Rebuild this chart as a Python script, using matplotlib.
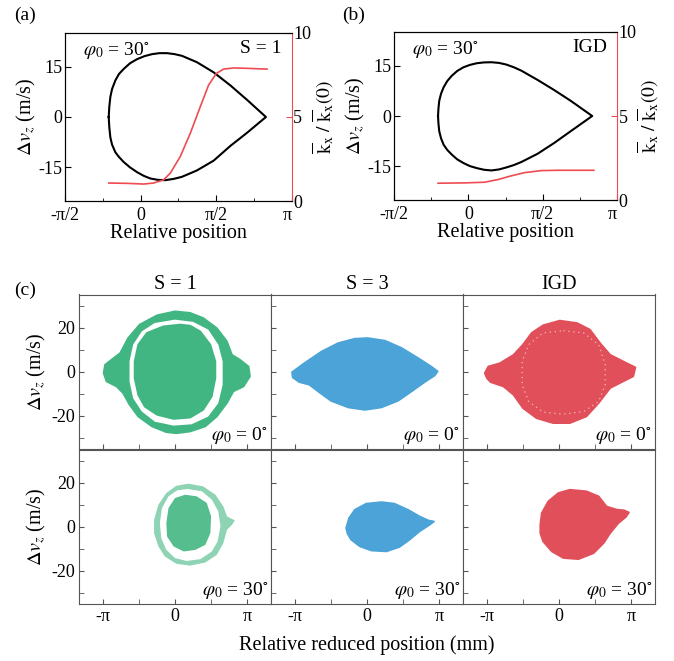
import numpy as np
import matplotlib.pyplot as plt
from matplotlib.ticker import MultipleLocator

plt.rcParams['font.family'] = ['Liberation Serif', 'DejaVu Serif']
plt.rcParams['mathtext.fontset'] = 'stix'
plt.rcParams['axes.unicode_minus'] = False

GREEN = '#42b682'
BLUE = '#4ba3d7'
RED = '#e1505a'
CURVE_RED = '#ee4b52'
FRAME = '#555555'

# ---- panel (a): S = 1, phi0 = 30 deg (x in units of pi) ----
a_sep_x = [-0.211, -0.207, -0.200, -0.189, -0.167, -0.143, -0.112, -0.070, -0.024, 0.025,
           0.075, 0.125, 0.174, 0.225, 0.273, 0.372, 0.482, 0.593, 0.703, 0.828,
           0.703, 0.593, 0.482, 0.372, 0.273, 0.220, 0.163, 0.113, 0.064, 0.020,
           -0.024, -0.070, -0.112, -0.143, -0.167, -0.189, -0.200, -0.207]
a_sep_v = [0.0, 3.1, 6.0, 8.3, 10.9, 12.8, 14.3, 16.0, 17.2, 18.1,
           18.7, 19.0, 19.0, 18.7, 18.2, 16.3, 13.3, 9.4, 5.1, 0.0,
           -4.7, -8.6, -13.0, -15.9, -17.8, -18.4, -18.8, -18.7, -18.3, -17.5,
           -16.4, -15.0, -13.4, -11.9, -10.5, -8.2, -6.1, -3.1]
a_k_x = [-0.211, -0.090, 0.020, 0.086, 0.152, 0.196, 0.262, 0.328, 0.394, 0.449,
         0.500, 0.548, 0.615, 0.725, 0.835]
a_k = [1.07, 1.05, 1.01, 1.07, 1.26, 1.66, 2.65, 4.03, 5.61, 6.90,
       7.59, 7.85, 7.92, 7.89, 7.85]

# ---- panel (b): IGD, phi0 = 30 deg ----
b_sep_x = [-0.204, -0.201, -0.196, -0.184, -0.167, -0.142, -0.111, -0.075, -0.033, 0.010,
           0.056, 0.106, 0.156, 0.206, 0.256, 0.306, 0.356, 0.467, 0.578, 0.689,
           0.833, 0.689, 0.578, 0.467, 0.356, 0.306, 0.256, 0.206, 0.156, 0.106,
           0.056, 0.010, -0.033, -0.075, -0.111, -0.142, -0.167, -0.184, -0.196, -0.201]
b_sep_v = [0.0, 2.3, 4.5, 6.6, 8.5, 10.4, 12.0, 13.4, 14.5, 15.2,
           15.7, 15.95, 16.0, 15.8, 15.3, 14.5, 13.5, 10.7, 7.7, 4.5,
           0.0, -4.5, -8.0, -11.2, -13.7, -14.6, -15.3, -15.9, -16.2, -16.0,
           -15.5, -14.9, -14.0, -12.9, -11.5, -10.1, -8.5, -6.6, -4.5, -2.3]
b_k_x = [-0.204, -0.022, 0.111, 0.200, 0.289, 0.378, 0.489, 0.600, 0.733, 0.844]
b_k = [1.00, 1.02, 1.06, 1.22, 1.44, 1.63, 1.75, 1.77, 1.77, 1.77]

# ---- panel (c): outlines of the particle clouds ----
# S = 1, phi0 = 0: outer ring, gap, core
s1_0_outer_x = [0.00, 0.21, 0.39, 0.58, 0.72, 0.79, 0.90, 1.02, 1.04, 0.95, 0.81, 0.72, 0.58,
                0.42, 0.21, 0.02, -0.12, -0.32, -0.51, -0.63, -0.72, -0.81, -0.95, -0.99,
                -0.97, -0.88, -0.76, -0.65, -0.49, -0.25]
s1_0_outer_v = [27.4, 26.7, 24.4, 19.8, 13.8, 7.7, 5.5, 2.4, -2.1, -6.7, -8.9, -14.2, -20.3,
                -24.8, -27.1, -27.9, -27.4, -24.8, -20.3, -15.0, -9.7, -6.7, -4.4, -0.6,
                3.2, 5.5, 8.5, 15.3, 21.4, 25.6]
s1_0_gap_x = [0.00, 0.25, 0.46, 0.60, 0.66, 0.66, 0.60, 0.46, 0.23, -0.02, -0.28, -0.46,
              -0.58, -0.63, -0.63, -0.58, -0.46, -0.28]
s1_0_gap_v = [23.6, 22.6, 19.1, 12.3, 4.7, -5.9, -14.2, -20.3, -23.8, -24.4, -22.6, -18.0,
              -12.0, -4.4, 4.7, 12.3, 18.3, 22.1]
s1_0_core_x = [0.07, 0.21, 0.35, 0.49, 0.56, 0.56, 0.51, 0.39, 0.21, -0.02, -0.25, -0.42,
               -0.51, -0.56, -0.56, -0.51, -0.39, -0.16]
s1_0_core_v = [21.4, 20.9, 18.3, 12.3, 4.7, -2.9, -11.2, -17.3, -20.8, -21.4, -19.5, -15.8,
               -10.5, -2.9, 4.7, 12.3, 17.6, 20.6]

# S = 3, phi0 = 0
s3_0_x = [-1.04, -0.87, -0.63, -0.40, -0.17, 0.01, 0.25, 0.48, 0.71, 0.89, 0.98, 0.94,
          0.80, 0.62, 0.43, 0.20, -0.03, -0.26, -0.50, -0.68, -0.80, -0.94, -1.03]
s3_0_v = [-0.2, 3.9, 9.2, 13.0, 15.0, 15.3, 14.1, 10.8, 6.2, 2.4, 0.2, -1.7,
          -4.7, -8.9, -13.2, -16.2, -17.3, -16.2, -13.2, -8.9, -5.9, -4.7, -2.6]

# IGD, phi0 = 0 (plus faint inner ring)
igd_0_x = [-1.03, -0.98, -0.82, -0.63, -0.50, -0.38, -0.22, 0.01, 0.25, 0.43, 0.57, 0.71,
           0.94, 1.06, 1.03, 0.89, 0.71, 0.55, 0.38, 0.15, -0.08, -0.31, -0.50, -0.63,
           -0.77, -0.95, -1.00]
igd_0_v = [-0.6, 2.4, 3.9, 7.7, 12.3, 17.6, 21.1, 23.2, 22.1, 19.1, 13.0, 7.7,
           3.9, 2.0, -2.1, -4.4, -7.4, -14.2, -20.3, -23.3, -23.3, -21.1, -16.5, -10.5,
           -6.7, -4.7, -2.9]
igd_0_ring_x = [0.06, 0.34, 0.55, 0.64, 0.64, 0.55, 0.34, 0.06, -0.22, -0.42, -0.51, -0.51,
                -0.42, -0.22]
igd_0_ring_v = [18.6, 17.6, 12.3, 3.2, -5.9, -13.5, -18.0, -19.2, -18.3, -13.5, -5.9, 4.7,
                12.3, 17.6]

# S = 1, phi0 = 30: sparse ring and core
s1_30_outer_x = [0.19, 0.39, 0.56, 0.67, 0.72, 0.83, 0.79, 0.72, 0.67, 0.58, 0.42, 0.21,
                 0.02, -0.14, -0.23, -0.29, -0.29, -0.23, -0.12, 0.02]
s1_30_outer_v = [19.5, 18.3, 14.5, 9.2, 4.7, 2.9, 0.9, -1.4, -7.4, -12.7, -16.2, -17.6,
                 -16.8, -13.5, -8.9, -2.9, 3.2, 10.0, 15.3, 18.6]
s1_30_gap_x = [0.17, 0.37, 0.51, 0.60, 0.63, 0.59, 0.51, 0.35, 0.16, 0.00, -0.12, -0.19,
               -0.21, -0.18, -0.09, 0.03]
s1_30_gap_v = [17.1, 16.1, 12.3, 7.0, 0.2, -6.7, -11.2, -14.7, -15.5, -14.2, -10.5, -5.2,
               1.7, 8.5, 13.8, 16.5]
s1_30_core_x = [0.14, 0.30, 0.44, 0.50, 0.49, 0.42, 0.28, 0.12, -0.02, -0.11, -0.12, -0.09, 0.00]
s1_30_core_v = [14.5, 13.8, 10.8, 4.7, -2.9, -8.2, -10.5, -11.2, -8.9, -4.4, 1.7, 8.5, 13.0]

# S = 3, phi0 = 30
s3_30_x = [-0.29, -0.25, -0.17, -0.01, 0.20, 0.38, 0.57, 0.73, 0.85, 0.93, 0.87, 0.73,
           0.59, 0.45, 0.27, 0.06, -0.10, -0.22, -0.27]
s3_30_v = [-0.6, 3.9, 7.7, 10.5, 11.2, 10.5, 7.7, 4.7, 2.9, 2.4, 0.9, -2.1,
           -5.9, -9.2, -11.2, -10.8, -8.9, -5.9, -3.2]

# IGD, phi0 = 30
igd_30_x = [-0.26, -0.24, -0.15, -0.01, 0.15, 0.38, 0.55, 0.66, 0.80, 0.90, 0.97, 0.93,
            0.82, 0.71, 0.62, 0.48, 0.27, 0.06, -0.10, -0.22, -0.26]
igd_30_v = [0.9, 6.2, 11.5, 15.3, 16.8, 16.1, 13.8, 9.2, 7.8, 7.5, 6.5, 4.5,
            1.5, -2.9, -7.4, -12.0, -14.7, -14.2, -11.2, -6.7, -2.9]

col_titles = ['S = 1', 'S = 3', 'IGD']
row_angles = ['0', '30']

fig = plt.figure(figsize=(6.74, 6.61), dpi=100)


def phi_label(deg):
    return r'$\varphi_0$ = ' + deg + r'$^{\circ}$'


def top_panel(rect, sx, sv, kx, k, tag, name):
    ax = fig.add_axes(rect)
    ax.plot(sx + sx[:1], sv + sv[:1], color='black', lw=1.5, solid_joinstyle='round')
    ax.set_xlim(-0.5, 1.0)
    ax.set_ylim(-25, 25)
    ax.xaxis.set_minor_locator(MultipleLocator(0.25))
    ax.set_xticks([-0.5, 0, 0.5, 1.0])
    ax.set_xticklabels(['-π/2', '0', 'π/2', 'π'])
    ax.get_xticklabels()[-1].set_ha('right')
    ax.set_yticks([-15, 0, 15])
    ax.tick_params(direction='in', labelsize=13, length=4, pad=2)
    ax.tick_params(axis='x', pad=4)
    ax.tick_params(which='minor', direction='in', length=2.5)
    ax.spines['right'].set_visible(False)
    ax.set_xlabel('Relative position', fontsize=14.5, labelpad=0)
    ax.set_ylabel(r'$\Delta v_z$ (m/s)', fontsize=14.5, labelpad=0)
    ax.text(0.08, 0.96, phi_label('30'), transform=ax.transAxes, fontsize=14,
            ha='left', va='top')
    ax.text(0.955, 0.96, name, transform=ax.transAxes, fontsize=14,
            ha='right', va='top')
    ax2 = ax.twinx()
    ax2.plot(kx, k, color=CURVE_RED, lw=1.2)
    ax2.set_ylim(0, 10)
    ax2.set_yticks([0, 5, 10])
    ax2.spines['right'].set_color(CURVE_RED)
    ax2.tick_params(direction='in', labelsize=13, length=4, colors='black', pad=1)
    ax2.tick_params(axis='y', color=CURVE_RED)
    ax2.set_ylabel(r'$\overline{\mathrm{k}}_\mathrm{x}\ /\ \overline{\mathrm{k}}_\mathrm{x}(0)$',
                   fontsize=14, labelpad=-1)
    fig.text(rect[0] - 0.06, 0.977, tag, fontsize=14, ha='center', va='center')


top_panel([0.0964, 0.6959, 0.3368, 0.2542], a_sep_x, a_sep_v, a_k_x, a_k, '(a)', 'S = 1')
top_panel([0.5846, 0.6974, 0.3309, 0.2542], b_sep_x, b_sep_v, b_k_x, b_k, '(b)', 'IGD')

# ---- panel (c) grid ----
col_x0 = [79 / 674, 271 / 674, 463 / 674]
col_w = 192 / 674
row_y0 = [1 - 449 / 661, 1 - 604 / 661]
row_h = 154.5 / 661

axes = [[None] * 3 for _ in range(2)]
for r in range(2):
    for c in range(3):
        ax = fig.add_axes([col_x0[c], row_y0[r], col_w, row_h])
        axes[r][c] = ax
        ax.set_xlim(-1.33, 1.33)
        ax.set_ylim(-35, 35)
        ax.set_xticks([-1, 0, 1])
        ax.xaxis.set_minor_locator(MultipleLocator(0.5))
        ax.set_yticks([-20, 0, 20])
        ax.yaxis.set_minor_locator(MultipleLocator(10))
        ax.tick_params(which='both', direction='in', length=3.5, color=FRAME,
                       labelsize=13, pad=3)
        for s in ax.spines.values():
            s.set_color(FRAME)
        if r == 1:
            ax.set_xticklabels(['-π', '0', 'π'])
        else:
            ax.set_xticklabels([])
            ax.set_title(col_titles[c], fontsize=14.5, pad=4)
        if c == 0:
            ax.set_ylabel(r'$\Delta v_z$ (m/s)', fontsize=14.5, labelpad=2)
        else:
            ax.set_yticklabels([])
        ax.text(0.985, 0.02, phi_label(row_angles[r]), transform=ax.transAxes,
                fontsize=14, ha='right', va='bottom')

fill_kw = dict(lw=1.2, joinstyle='round')

ax = axes[0][0]
ax.fill(s1_0_outer_x, s1_0_outer_v, color=GREEN, **fill_kw)
ax.fill(s1_0_gap_x, s1_0_gap_v, color='white', lw=0)
ax.fill(s1_0_core_x, s1_0_core_v, color=GREEN, **fill_kw)

ax = axes[0][1]
ax.fill(s3_0_x, s3_0_v, color=BLUE, **fill_kw)

ax = axes[0][2]
ax.fill(igd_0_x, igd_0_v, color=RED, **fill_kw)
ax.plot(igd_0_ring_x + igd_0_ring_x[:1], igd_0_ring_v + igd_0_ring_v[:1],
        color='white', lw=0.9, ls=(0, (1, 3)), alpha=0.6)

ax = axes[1][0]
ax.fill(s1_30_outer_x, s1_30_outer_v, color=GREEN, alpha=0.6, lw=0)
ax.fill(s1_30_gap_x, s1_30_gap_v, color='white', lw=0)
ax.fill(s1_30_core_x, s1_30_core_v, color=GREEN, alpha=0.9, lw=0)

ax = axes[1][1]
ax.fill(s3_30_x, s3_30_v, color=BLUE, **fill_kw)

ax = axes[1][2]
ax.fill(igd_30_x, igd_30_v, color=RED, **fill_kw)

fig.text(0.037, 1 - 290 / 661, '(c)', fontsize=14, ha='center', va='center')
fig.text(367 / 674, 1 - 645 / 661, 'Relative reduced position (mm)', fontsize=14.5,
         ha='center', va='center')

fig.savefig('out.png', dpi=100)
